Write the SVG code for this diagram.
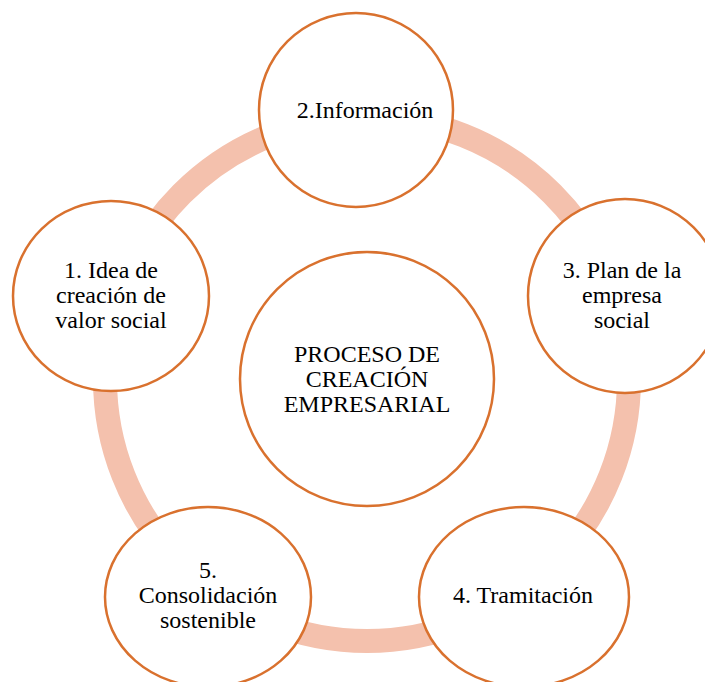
<svg xmlns="http://www.w3.org/2000/svg" width="705" height="682" viewBox="0 0 705 682">
<style>
.node{fill:#FFFFFF;stroke:#D9712E;stroke-width:2.5}
.ring{fill:none;stroke:#F4C1AD;stroke-width:24}
.t{font-family:'Liberation Serif','Times New Roman',serif;font-size:24px;fill:#000000;text-anchor:middle}
</style>
<rect width="705" height="682" fill="#FFFFFF"/>
<g id="connectors">
<circle class="ring" cx="367" cy="379" r="262"/>
</g>
<g id="center">
<circle class="node" cx="367" cy="379" r="127"/>
<text class="t" x="367" y="362">PROCESO DE</text>
<text class="t" x="367" y="387">CREACIÓN</text>
<text class="t" x="367" y="412">EMPRESARIAL</text>
</g>
<g id="n2">
<ellipse class="node" cx="356" cy="110" rx="97" ry="97"/>
<text class="t" x="365" y="118">2.Información</text>
</g>
<g id="n1">
<ellipse class="node" cx="111" cy="296" rx="98" ry="95"/>
<text class="t" x="111" y="278">1. Idea de</text>
<text class="t" x="111" y="303">creación de</text>
<text class="t" x="111" y="328">valor social</text>
</g>
<g id="n3">
<ellipse class="node" cx="625" cy="296" rx="97" ry="97"/>
<text class="t" x="622" y="278">3. Plan de la</text>
<text class="t" x="622" y="303">empresa</text>
<text class="t" x="622" y="328">social</text>
</g>
<g id="n4">
<ellipse class="node" cx="524" cy="597" rx="105" ry="90"/>
<text class="t" x="523" y="603">4. Tramitación</text>
</g>
<g id="n5">
<ellipse class="node" cx="208" cy="597" rx="103" ry="90"/>
<text class="t" x="208" y="578">5.</text>
<text class="t" x="208" y="603">Consolidación</text>
<text class="t" x="208" y="628">sostenible</text>
</g>
</svg>
